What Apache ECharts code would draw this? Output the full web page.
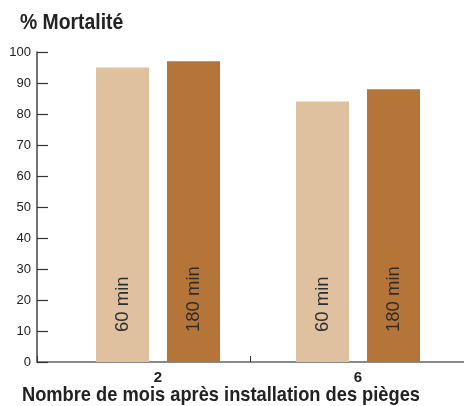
<!DOCTYPE html>
<html><head><meta charset="utf-8">
<script src="https://cdn.jsdelivr.net/npm/echarts@6/dist/echarts.min.js"></script>
<style>html,body{margin:0;padding:0;background:#fff}#c{width:464px;height:406px}</style>
</head><body><div id="c"></div>
<script>
const categories = ['2', '6'];
const seriesNames = ['60 min', '180 min'];
const values60 = [95, 84];
const values180 = [97, 88];
const yTicks = [0, 10, 20, 30, 40, 50, 60, 70, 80, 90, 100];
const titleText = '% Mortalité';
const xAxisTitle = 'Nombre de mois après installation des pièges';

const FONT = '"Liberation Sans", Arial, sans-serif';
const chart = echarts.init(document.getElementById('c'), null, {renderer: 'canvas'});
const barLabel = {
  show: true, formatter: '{a}', rotate: 90, position: 'insideBottom',
  align: 'left', verticalAlign: 'middle', distance: 30,
  fontFamily: FONT, fontSize: 18.5, color: '#2e2e2e'
};
chart.setOption({
  animation: false,
  graphic: [
    {type: 'text', x: 20, y: 12, scaleX: 0.88,
     style: {text: titleText, font: 'bold 22px ' + FONT, fill: '#222', verticalAlign: 'top'}},
    {type: 'text', x: 22, y: 385, scaleX: 0.87,
     style: {text: xAxisTitle, font: 'bold 21px ' + FONT, fill: '#222', verticalAlign: 'top'}}
  ],
  grid: [
    {left: 37, width: 436, top: 52, bottom: 44},
    {left: 58, right: 6, top: 52, bottom: 44}
  ],
  xAxis: [
    {type: 'category', gridIndex: 0, data: ['', ''],
     axisLine: {lineStyle: {color: '#8a8a8a', width: 2}},
     axisTick: {show: true, inside: true, length: 6, lineStyle: {color: '#333', width: 1}},
     axisLabel: {show: false}},
    {type: 'category', gridIndex: 1, data: categories,
     axisLine: {show: false}, axisTick: {show: false},
     axisLabel: {fontFamily: FONT, fontWeight: 'bold', fontSize: 15, color: '#222', margin: 8}}
  ],
  yAxis: [
    {type: 'value', gridIndex: 0, min: yTicks[0], max: yTicks[yTicks.length - 1], interval: 10,
     axisLine: {show: true, lineStyle: {color: '#444', width: 1.5}},
     axisTick: {show: true, inside: true, length: 11, lineStyle: {color: '#333', width: 1.2}},
     axisLabel: {fontFamily: FONT, fontSize: 13, color: '#222', margin: 6},
     splitLine: {show: false}},
    {type: 'value', gridIndex: 1, min: 0, max: 100, show: false, splitLine: {show: false}}
  ],
  series: [
    {name: seriesNames[0], type: 'bar', xAxisIndex: 1, yAxisIndex: 1, data: values60,
     barWidth: 53, barGap: '34%', itemStyle: {color: '#DFC19F'}, label: barLabel},
    {name: seriesNames[1], type: 'bar', xAxisIndex: 1, yAxisIndex: 1, data: values180,
     barWidth: 53, barGap: '34%', itemStyle: {color: '#B57538'}, label: barLabel}
  ]
});
</script></body></html>
